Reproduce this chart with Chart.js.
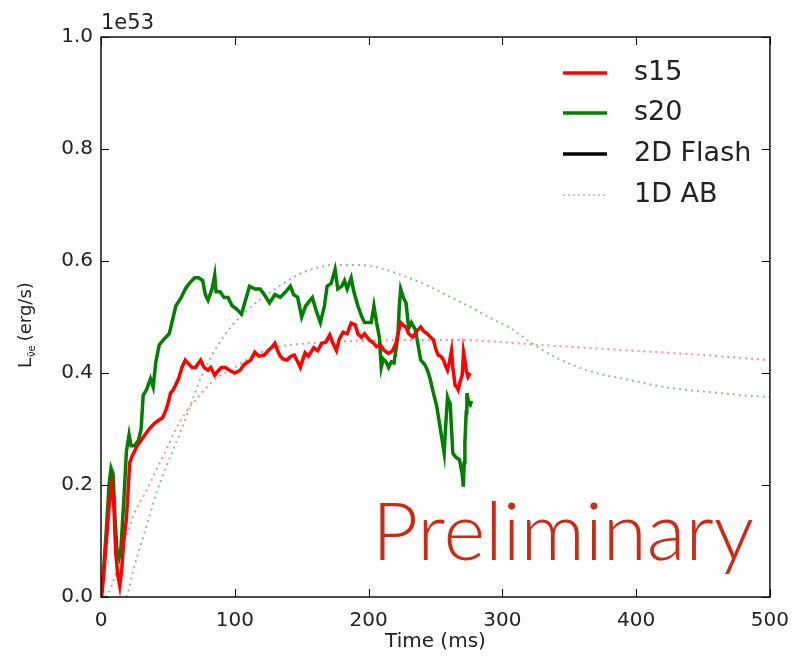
<!DOCTYPE html>
<html>
<head>
<meta charset="utf-8">
<script src="https://cdn.jsdelivr.net/npm/chart.js@4"></script>
<style>
	html, body { margin: 0; padding: 0; background: #fff; }
	#wrap { width: 801px; height: 660px; }
</style>
</head>
<body>
<div id="wrap"><canvas id="chart" width="801" height="660"></canvas></div>
<script>
// 2D Flash (values in units of 1e53 erg/s)
const s15Time = [0.5,2,4,6,8,9.5,11,12.5,14,15.5,17,19,20.5,21.5,23,25,27,30,33,36,40,43.5,46,48.6,50,52,54,56,58,60.5,63,66,68,70.8,72,74.5,77,80,82,85,88,90,93,96,100,104,107,110,112,115,118,122,125,128,130,132,134,136,139,142,144.5,147,149,151,152.5,155,159,162,165,168,171,173,176,178,181,184,187,190,192,194.7,197,200.6,203,206,209,211.6,215,218,220.5,222,224,226,228,230,233,236,239,241,244,246,248.5,250,252,254,256,258,259,260.5,262,263,264.7,266,267,268.5,270,271,272,273,274.3,276];
const s15Lum = [0.0,0.04,0.1,0.16,0.2,0.17,0.08,0.04,0.02,0.05,0.1,0.14,0.2,0.24,0.25,0.26,0.27,0.28,0.29,0.3,0.31,0.316,0.32,0.334,0.345,0.364,0.37,0.38,0.39,0.41,0.423,0.415,0.41,0.41,0.415,0.423,0.41,0.405,0.41,0.396,0.405,0.41,0.41,0.405,0.4,0.405,0.415,0.42,0.423,0.437,0.43,0.432,0.44,0.447,0.453,0.44,0.43,0.425,0.423,0.43,0.432,0.42,0.41,0.425,0.436,0.43,0.445,0.44,0.453,0.455,0.468,0.455,0.44,0.46,0.473,0.47,0.489,0.486,0.47,0.464,0.47,0.459,0.455,0.447,0.45,0.44,0.435,0.44,0.453,0.47,0.49,0.485,0.482,0.47,0.464,0.475,0.482,0.475,0.47,0.465,0.459,0.445,0.432,0.43,0.423,0.41,0.405,0.42,0.44,0.41,0.378,0.375,0.37,0.385,0.396,0.437,0.423,0.405,0.393,0.4];

const s20Time = [0.5,2,4,6,7.5,9,10.5,12,13.5,15,17,19,21,22.5,25,28,30,31.5,34,37,39,41,43.5,47,51,54,56,60,63,66,70,73,76,78,80,83,85,86,89,92,95,98,101,105,108,111,115,119,122,126,130,134,138,141.5,144,147,150,153,158,161,164,167,169,172,175,177,180,182,184,187,189,192,195,197,200,202,204,206,208,209.5,211,213,215,217,219,221,222,223,224,226,228,230,232,235,237,239,242,244,246,248.5,250,251,253,255,256.5,257.5,259,260,261,262,263,265,268,270,270.8,271.5,272,273,273.5,275,276,277];
const s20Lum = [0.01,0.05,0.12,0.2,0.23,0.22,0.14,0.08,0.07,0.09,0.17,0.26,0.29,0.27,0.27,0.28,0.3,0.36,0.37,0.39,0.375,0.42,0.45,0.46,0.47,0.5,0.52,0.535,0.55,0.56,0.57,0.57,0.565,0.54,0.53,0.55,0.575,0.545,0.545,0.535,0.535,0.52,0.515,0.505,0.53,0.555,0.55,0.55,0.54,0.525,0.54,0.535,0.545,0.555,0.54,0.535,0.5,0.52,0.535,0.51,0.49,0.52,0.555,0.56,0.585,0.55,0.555,0.565,0.55,0.57,0.545,0.52,0.5,0.49,0.49,0.49,0.52,0.49,0.465,0.41,0.425,0.42,0.41,0.42,0.418,0.45,0.47,0.52,0.55,0.535,0.525,0.48,0.49,0.477,0.45,0.423,0.415,0.405,0.39,0.364,0.35,0.34,0.31,0.28,0.257,0.3,0.357,0.35,0.346,0.3,0.257,0.25,0.245,0.22,0.197,0.24,0.275,0.33,0.364,0.345,0.343,0.35];

// 1D AB
const ab15Time = [3,6.6,12,19,25,34,42,48.6,56,63,75,85,100,115,132,150,175,200,230,255,280,329,390,451,500];
const ab15Lum = [0,0.012,0.05,0.107,0.15,0.19,0.23,0.262,0.3,0.328,0.364,0.388,0.41,0.432,0.447,0.452,0.456,0.458,0.459,0.459,0.458,0.45,0.441,0.432,0.423];

const ab20Time = [19,21,23.6,30,36,42,48.6,58,65.6,75,85,97,112,127,147,160,174,190,203.5,215,230,245,255,270,280,292,304,314,324,338,353,370,390,410,427,445,464,480,500];
const ab20Lum = [0,0.015,0.043,0.095,0.143,0.19,0.232,0.286,0.334,0.393,0.44,0.482,0.518,0.545,0.575,0.587,0.593,0.593,0.59,0.583,0.57,0.555,0.543,0.525,0.513,0.497,0.483,0.467,0.45,0.43,0.414,0.4,0.39,0.38,0.373,0.368,0.364,0.36,0.357];

const xTicks = [0, 100, 200, 300, 400, 500];
const yTicks = [0, 0.2, 0.4, 0.6, 0.8, 1.0];
const legendLabels = ['s15', 's20', '2D Flash', '1D AB'];

const RED = '#ff0000';
const GREEN = '#007f00';
const FONT = 'DejaVu Sans';

function pts(xs, ys) {
	return xs.map((x, i) => ({ x: x, y: ys[i] }));
}

// 枠・内向きの目盛り・凡例・注記
const extras = {
	id: 'extras',
	afterDraw(chart) {
		const ctx = chart.ctx;
		const a = chart.chartArea;
		const xs = chart.scales.x, ys = chart.scales.y;
		ctx.save();

		// ticks pointing inward on all four sides
		ctx.strokeStyle = '#000';
		ctx.lineWidth = 1;
		ctx.beginPath();
		xTicks.forEach(t => {
			const px = Math.round(xs.getPixelForValue(t)) + 0.5;
			ctx.moveTo(px, a.bottom); ctx.lineTo(px, a.bottom - 8);
			ctx.moveTo(px, a.top); ctx.lineTo(px, a.top + 8);
		});
		yTicks.forEach(t => {
			const py = Math.round(ys.getPixelForValue(t)) + 0.5;
			ctx.moveTo(a.left, py); ctx.lineTo(a.left + 8, py);
			ctx.moveTo(a.right, py); ctx.lineTo(a.right - 8, py);
		});
		ctx.stroke();

		ctx.lineWidth = 1.5;
		ctx.strokeStyle = '#111';
		ctx.strokeRect(a.left, a.top, a.right - a.left, a.bottom - a.top);

		// 1e53 offset
		ctx.fillStyle = '#222';
		ctx.font = '21px "' + FONT + '"';
		ctx.textAlign = 'left';
		ctx.textBaseline = 'bottom';
		ctx.fillText('1e53', a.left, a.top - 3);

		// y axis title with subscript
		ctx.save();
		ctx.translate(31, 368);
		ctx.rotate(-Math.PI / 2);
		ctx.textBaseline = 'alphabetic';
		ctx.font = '18px "' + FONT + '"';
		ctx.fillText('L', 0, 0);
		let w = ctx.measureText('L').width;
		ctx.font = '10px "' + FONT + '"';
		ctx.fillText('ν̄e', w + 1, 4);
		w += ctx.measureText('ν̄e').width + 5;
		ctx.font = '18px "' + FONT + '"';
		ctx.fillText('(erg/s)', w, 0);
		ctx.restore();

		// legend
		const colors = [RED, GREEN, '#000', '#888'];
		const rows = [73, 113, 154, 195];
		legendLabels.forEach((lab, i) => {
			ctx.beginPath();
			ctx.strokeStyle = colors[i];
			if (i === 3) {
				ctx.lineWidth = 1;
				ctx.setLineDash([2, 3]);
			} else {
				ctx.lineWidth = 3.5;
				ctx.setLineDash([]);
			}
			ctx.moveTo(563, rows[i]);
			ctx.lineTo(607, rows[i]);
			ctx.stroke();
			ctx.setLineDash([]);
			ctx.fillStyle = '#222';
			ctx.font = '27px "' + FONT + '"';
			ctx.textBaseline = 'middle';
			ctx.fillText(lab, 634, rows[i]);
		});

		// Preliminary
		ctx.fillStyle = '#cc2a14';
		ctx.textBaseline = 'alphabetic';
		ctx.font = '300 82px Lato';
		const pw = ctx.measureText('Preliminary').width;
		const size = 82 * 382 / pw;
		ctx.font = '300 ' + size.toFixed(1) + 'px Lato';
		ctx.fillText('Preliminary', 372, 560);

		ctx.restore();
	}
};

let config = {
	type: 'line',
	data: {
		datasets: [
			{
				label: 's15',
				data: pts(s15Time, s15Lum),
				borderColor: RED,
				borderWidth: 3.5,
			},
			{
				label: 's20',
				data: pts(s20Time, s20Lum),
				borderColor: GREEN,
				borderWidth: 3.5,
			},
			{
				label: '1D AB s15',
				data: pts(ab15Time, ab15Lum),
				borderColor: 'rgba(255, 0, 0, 0.45)',
				borderWidth: 2,
				borderDash: [2, 4],
				cubicInterpolationMode: 'monotone',
			},
			{
				label: '1D AB s20',
				data: pts(ab20Time, ab20Lum),
				borderColor: 'rgba(0, 127, 0, 0.45)',
				borderWidth: 2,
				borderDash: [2, 4],
				cubicInterpolationMode: 'monotone',
			},
		]
	},
	options: {
		responsive: false,
		animation: false,
		layout: {
			padding: { left: 0, right: 22, top: 37, bottom: 0 }
		},
		elements: {
			point: { radius: 0 },
			line: { tension: 0, fill: false, borderCapStyle: 'butt' },
		},
		plugins: {
			legend: { display: false },
			tooltip: { enabled: false },
		},
		scales: {
			x: {
				type: 'linear',
				min: 0,
				max: 500,
				afterFit: s => { s.height = 63; },
				afterBuildTicks: s => { s.ticks = xTicks.map(v => ({ value: v })); },
				grid: { display: false, drawTicks: false },
				border: { display: false },
				ticks: {
					padding: 12,
					color: '#222',
					font: { family: FONT, size: 20 },
				},
				title: {
					display: true,
					text: 'Time (ms)',
					color: '#222',
					font: { family: FONT, size: 20 },
					padding: { top: 0, bottom: 6 },
				},
			},
			y: {
				min: 0,
				max: 1,
				afterFit: s => { s.width = 101; },
				afterBuildTicks: s => { s.ticks = yTicks.map(v => ({ value: v })); },
				grid: { display: false, drawTicks: false },
				border: { display: false },
				ticks: {
					padding: 8,
					color: '#222',
					font: { family: FONT, size: 20 },
					callback: v => v.toFixed(1),
				},
			}
		}
	},
	plugins: [extras]
};

window.addEventListener('load', () => {
	const ctx = document.getElementById('chart').getContext('2d');
	const myChart = new Chart(ctx, config);
});
</script>
</body>
</html>
